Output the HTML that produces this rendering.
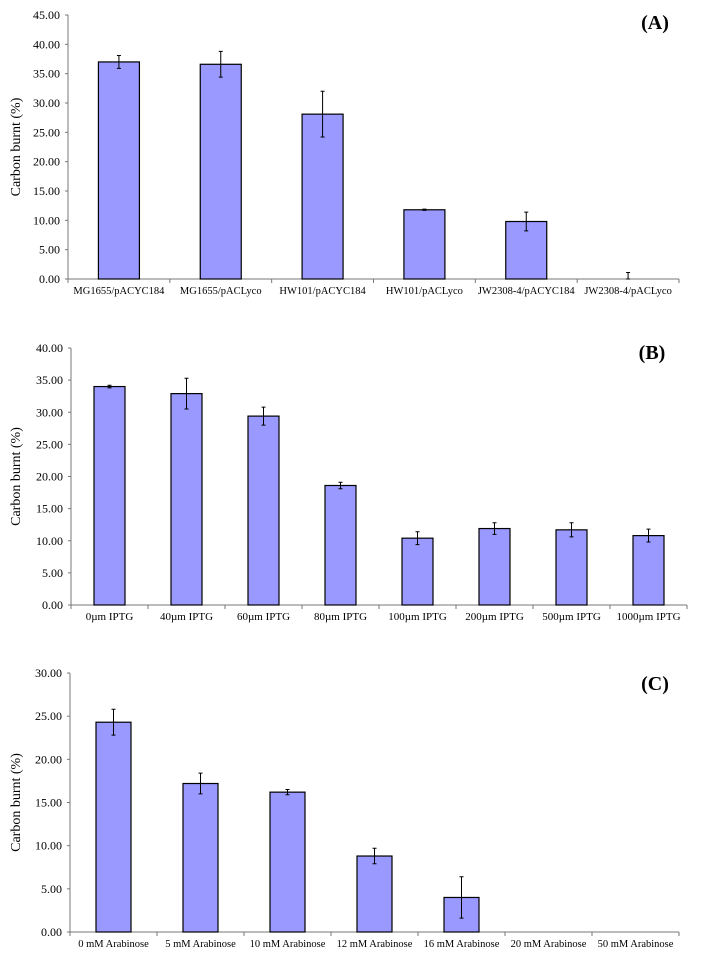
<!DOCTYPE html>
<html><head><meta charset="utf-8"><style>
html,body{margin:0;padding:0;background:#fff;}
svg{display:block;font-family:"Liberation Serif",serif;}
</style></head><body>
<svg id="chart" width="701" height="957" viewBox="0 0 701 957" xmlns="http://www.w3.org/2000/svg"></svg>
<script>
const catsA = ["MG1655/pACYC184","MG1655/pACLyco","HW101/pACYC184","HW101/pACLyco","JW2308-4/pACYC184","JW2308-4/pACLyco"];
const valsA = [37.0, 36.6, 28.1, 11.8, 9.8, 0];
const errsA = [1.1, 2.2, 3.9, 0.1, 1.6, 1.1];
const ticksA = [0,5,10,15,20,25,30,35,40,45];

const catsB = ["0µm IPTG","40µm IPTG","60µm IPTG","80µm IPTG","100µm IPTG","200µm IPTG","500µm IPTG","1000µm IPTG"];
const valsB = [34.0, 32.9, 29.4, 18.6, 10.4, 11.9, 11.7, 10.8];
const errsB = [0.2, 2.4, 1.4, 0.5, 1.0, 0.9, 1.1, 1.0];
const ticksB = [0,5,10,15,20,25,30,35,40];

const catsC = ["0 mM Arabinose","5 mM Arabinose","10 mM Arabinose","12 mM Arabinose","16 mM Arabinose","20 mM Arabinose","50 mM Arabinose"];
const valsC = [24.3, 17.2, 16.2, 8.8, 4.0, 0, 0];
const errsC = [1.5, 1.2, 0.3, 0.9, 2.4, 0, 0];
const ticksC = [0,5,10,15,20,25,30];

const NS="http://www.w3.org/2000/svg";
const svg=document.getElementById('chart');
function mk(tag,attrs,parent){const e=document.createElementNS(NS,tag);for(const k in attrs)e.setAttribute(k,attrs[k]);(parent||svg).appendChild(e);return e;}

function panel(o){
  const g=mk('g',{});
  
  
  const max=o.ticks[o.ticks.length-1];
  const y=v=>o.y0-(v/max)*(o.y0-o.yTop);
  const n=o.cats.length, cw=(o.xEnd-o.x0)/n;
  const x=i=>o.x0+cw*(i+0.5);
  const ya=mk('line',{x1:o.x0,y1:o.yTop,x2:o.x0,y2:o.y0,stroke:'#777','stroke-width':1},g);
  
  
  const xa=mk('line',{x1:o.x0,y1:o.y0,x2:o.xEnd,y2:o.y0,stroke:'#777','stroke-width':1},g);
  
  
  o.ticks.forEach(t=>{
    mk('line',{x1:o.x0-3,y1:y(t),x2:o.x0,y2:y(t),stroke:'#777'},g);
    const tl=mk('text',{x:o.x0-8,y:y(t)+4,'text-anchor':'end','font-size':12,fill:'#000'},g);
    tl.textContent=t.toFixed(2);
    
    
  });
  for(let i=0;i<=n;i++){mk('line',{x1:o.x0+cw*i,y1:o.y0,x2:o.x0+cw*i,y2:o.y0+4,stroke:'#777'},g);}
  o.cats.forEach((c,i)=>{
    const v=o.vals[i], e=o.errs[i];
    if(v>0){
      const b=mk('rect',{x:x(i)-o.bw/2,y:y(v),width:o.bw,height:o.y0-y(v),fill:'#9999ff',stroke:'#000','stroke-width':1.2},g);
      
      
    }
    if(e>0){
      const lo=Math.max(0,v-e), hi=v+e;
      const eb=mk('path',{d:`M${x(i)},${y(lo)}V${y(hi)}M${x(i)-2},${y(hi)}H${x(i)+2}M${x(i)-2},${y(lo)}H${x(i)+2}`,stroke:'#000','stroke-width':1,fill:'none'},g);
      
      
    }
    const lab=mk('text',{x:x(i),y:o.y0+15,'text-anchor':'middle','font-size':o.lfs,fill:'#000'},g);
    lab.textContent=c;
    
    
  });
  const yt=mk('text',{x:0,y:0,transform:`translate(20,${(o.y0+o.yTop)/2}) rotate(-90)`,'text-anchor':'middle','font-size':14,fill:'#000'},g);
  yt.textContent='Carbon burnt (%)';
  
  
  const pl=mk('text',{x:o.lx,y:o.ly,'text-anchor':'middle','font-size':20,'font-weight':'bold',fill:'#000'},g);
  pl.textContent='('+o.id+')';
  
  
}
panel({id:'A',cats:catsA,vals:valsA,errs:errsA,ticks:ticksA,x0:68,xEnd:679,yTop:15,y0:279,bw:41,lfs:10.5,lx:655,ly:29});
panel({id:'B',cats:catsB,vals:valsB,errs:errsB,ticks:ticksB,x0:71,xEnd:687,yTop:348,y0:605,bw:31,lfs:11,lx:652,ly:359});
panel({id:'C',cats:catsC,vals:valsC,errs:errsC,ticks:ticksC,x0:70,xEnd:679,yTop:673,y0:932,bw:35,lfs:10.5,lx:655,ly:690});
</script>
</body></html>
